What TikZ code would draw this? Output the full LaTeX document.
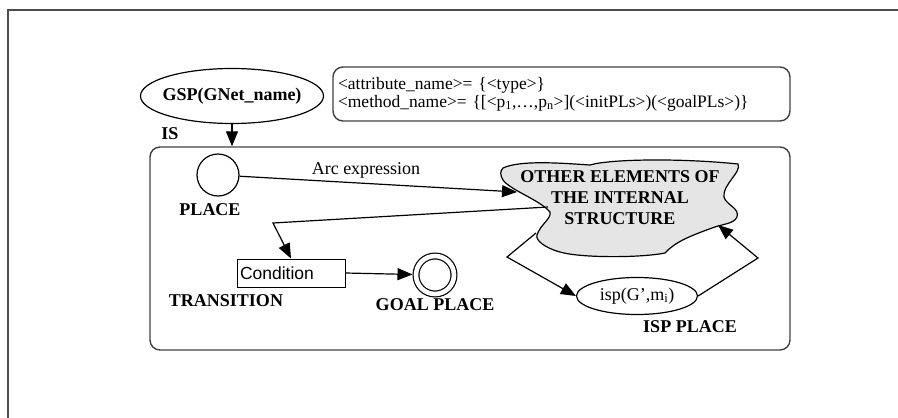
\documentclass[tikz,border=0pt]{standalone}
\usepackage{fontspec}
\setmainfont{Liberation Serif}
\newfontfamily\condfont{Liberation Sans}
\usetikzlibrary{arrows.meta,shapes.geometric}

\begin{document}
\begin{tikzpicture}[x=1pt,y=-1pt,
  lbl/.style={font=\fontsize{18}{20}\selectfont\bfseries, inner sep=0pt},
  plain/.style={font=\fontsize{18}{20}\selectfont, inner sep=0pt},
  con/.style={line width=1.2pt, -{Triangle[length=15pt,width=12pt]}},
  frame/.style={draw=black!75, line width=1.4pt, rounded corners=10pt},
  elem/.style={draw, line width=1.2pt}]
\useasboundingbox (0,0) rectangle (898,418);

% page frame
\draw[black!70, line width=1.8pt] (8,418) -- (8,10) -- (898,10);

% top level: GSP and its declarations
\node[elem, ellipse, inner sep=0pt, minimum width=183pt, minimum height=55pt,
      font=\fontsize{18}{20}\selectfont\bfseries] (gsp) at (232,96)
      {\makebox[0pt]{GSP(GNet\_name)}};
\node[frame, minimum width=457pt, minimum height=54pt, inner sep=5pt,
      text width=447pt, align=left,
      font=\fontsize{17.5}{18}\selectfont] (attr) at (561.5,94)
      {<attribute\_name>= \{<type>\}\\
       <method\_name>= \{[<p\textsubscript{1},\dots,p\textsubscript{n}>](<initPLs>)(<goalPLs>)\}};

% internal structure box
\node[frame, minimum width=640pt, minimum height=203pt] (is) at (470,248.5) {};
\node[lbl] (islbl) at (170,134) {IS};
\draw[con] (gsp.south) -- (gsp.south |- is.north);

% cloud of other elements
\draw[line width=1.2pt, fill=black!10]
  (503,168) .. controls (520,160) and (560,163) .. (590,165)
  .. controls (610,159) and (680,158) .. (738,164)
  .. controls (742,172) and (722,185) .. (724,197)
  .. controls (726,205) and (740,208) .. (737,217)
  .. controls (734,224) and (722,224) .. (712,228)
  .. controls (690,236) and (675,242) .. (665,253)
  .. controls (640,258) and (580,258) .. (560,252)
  .. controls (545,248) and (535,240) .. (537,235)
  .. controls (540,225) and (552,218) .. (550,212)
  .. controls (540,200) and (510,190) .. (503,180)
  .. controls (500,175) and (500,171) .. (503,168) -- cycle;
\node[lbl, align=center, font=\fontsize{18}{21}\selectfont\bfseries] (cloud) at (620,198)
  {OTHER ELEMENTS OF\\THE INTERNAL\\STRUCTURE};
\coordinate (cIn)  at (517,192);
\coordinate (cOut) at (548,207);
\coordinate (cDown) at (536,233);
\coordinate (cBack) at (718,225);

% net elements
\node[elem, circle, minimum size=42pt, inner sep=0pt] (place) at (218,175) {};
\node[lbl] (placelbl) at (210,210) {PLACE};

\node[draw, line width=1pt, minimum width=108pt, minimum height=28pt, inner sep=0pt]
  (cond) at (291,273) {\makebox[102pt][l]{\condfont\fontsize{17.5}{19}\selectfont Condition}};
\node[lbl] (translbl) at (226,301) {TRANSITION};

\node[circle, draw, line width=1.2pt, double, double distance=4.6pt,
      minimum size=38pt, inner sep=0pt, outer sep=3.5pt] (goal) at (435,275) {};
\node[lbl] (goallbl) at (435,305) {GOAL PLACE};

\node[elem, ellipse, inner sep=0pt, minimum width=121pt, minimum height=37pt,
      font=\fontsize{18}{20}\selectfont] (isp) at (637,296)
      {\makebox[0pt]{isp(G’,m\textsubscript{i})}};
\node[lbl] (isplbl) at (690,327) {ISP PLACE};

% arcs
\draw[con] (place) -- (cIn);
\node[plain] (arclbl) at (366,170) {Arc expression};
\coordinate (b1) at (273,223);
\draw[con] (cOut) -- (b1) -- (cond.north);
\draw[con] (cond.east) -- (goal);
\coordinate (b2) at (507,257);
\draw[con] (cDown) -- (b2) -- (isp.west);
\coordinate (b3) at (758,258);
\draw[con] (isp.east) -- (b3) -- (cBack);
\end{tikzpicture}
\end{document}
